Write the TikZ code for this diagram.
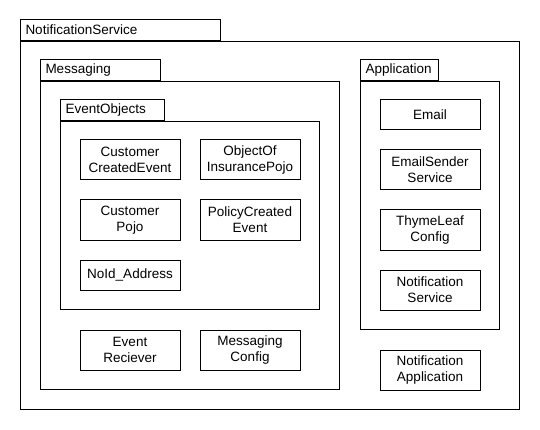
\documentclass[tikz,border=0pt]{standalone}
\usepackage{fontspec}
\setmainfont{Liberation Sans}
\usepackage{tikz}
\tikzset{
  classbox/.style={draw, minimum width=100pt, minimum height=40pt, inner sep=0pt, align=center, font=\fontsize{13.5}{16}\selectfont},
  pkgbody/.style={draw, anchor=north west, inner sep=0pt},
  pkgtab/.style={draw, anchor=south west, minimum height=21pt, inner xsep=5pt, inner ysep=0pt, text width=#1, align=left, font=\fontsize{13.5}{16}\selectfont}
}

\begin{document}
\begin{tikzpicture}[x=1pt, y=-1pt, line width=1pt]
  \useasboundingbox (0,0) rectangle (540,430);

  % NotificationService package
  \node[pkgbody, minimum width=499pt, minimum height=368pt] (nsBody) at (20,41) {};
  \node[pkgtab=190pt] (nsTab) at (nsBody.north west) {NotificationService};

  % Messaging package
  \node[pkgbody, minimum width=299pt, minimum height=308pt] (msgBody) at (40,81) {};
  \node[pkgtab=110pt] (msgTab) at (msgBody.north west) {Messaging};

  % EventObjects package
  \node[pkgbody, minimum width=259pt, minimum height=188pt] (evBody) at (60,121) {};
  \node[pkgtab=94pt] (evTab) at (evBody.north west) {EventObjects};

  \node[classbox] (custCreated) at (130,160) {Customer\\CreatedEvent};
  \node[classbox] (objInsurance) at (250,160) {ObjectOf\\InsurancePojo};
  \node[classbox] (custPojo) at (130,220) {Customer\\Pojo};
  \node[classbox] (policyCreated) at (250,220) {PolicyCreated\\Event};
  \node[classbox, minimum height=30pt] (noIdAddr) at (130,275) {NoId\_Address};

  \node[classbox] (evReciever) at (130,350) {Event\\Reciever};
  \node[classbox] (msgConfig) at (250,350) {Messaging\\Config};

  % Application package
  \node[pkgbody, minimum width=139pt, minimum height=248pt] (appBody) at (360,81) {};
  \node[pkgtab=68pt] (appTab) at (appBody.north west) {Application};

  \node[classbox, minimum height=30pt] (email) at (430,115) {Email};
  \node[classbox] (emailSender) at (430,170) {EmailSender\\Service};
  \node[classbox] (thymeConfig) at (430,230) {ThymeLeaf\\Config};
  \node[classbox] (notifService) at (430,290) {Notification\\Service};

  \node[classbox] (notifApp) at (430,370) {Notification\\Application};
\end{tikzpicture}
\end{document}
